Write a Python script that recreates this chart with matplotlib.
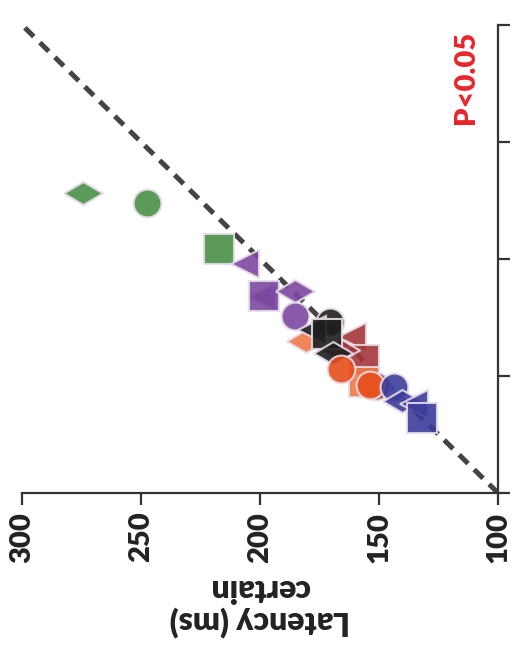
import numpy as np
import matplotlib
matplotlib.use("Agg")
import matplotlib.pyplot as plt

plt.rcParams['font.family'] = ['Lato', 'DejaVu Sans']
plt.rcParams['font.weight'] = 'heavy'

# latency values (ms), one list per condition group
green_x = [274.4, 247.5, 217.2]
green_y = [228.2, 223.9, 204.3]
green_m = ['diamond', 'o', 's']

purple_x = [206.3, 199.2, 198.3, 185.3, 185.3]
purple_y = [197.9, 183.8, 184.2, 186.3, 175.6]
purple_m = ['<', '<', 's', 'diamond', 'o']

lorange_x = [180.7, 156.3]
lorange_y = [165.0, 147.4]
lorange_m = ['diamond', 's']

dred_x = [161.3, 156.3, 151.3, 166.4]
dred_y = [166.7, 156.8, 145.7, 161.1]
dred_m = ['<', 's', 'o', 'diamond']

black_x = [170.6, 178.1, 171.8, 169.3]
black_y = [173.1, 169.7, 168.0, 159.8]
black_m = ['o', '<', 's', 'diamond']

ored_x = [165.9, 153.8]
ored_y = [153.0, 146.2]
ored_m = ['o', 'o']

navy_x = [143.7, 140.3, 135.3, 131.9]
navy_y = [145.3, 139.3, 138.0, 132.1]
navy_m = ['o', 'diamond', '<', 's']

groups = [
    (green_x, green_y, green_m, '#4a8f47'),
    (purple_x, purple_y, purple_m, '#7b48a0'),
    (dred_x, dred_y, dred_m, '#a3363a'),
    (lorange_x, lorange_y, lorange_m, '#f07848'),
    (black_x, black_y, black_m, '#1e1e1e'),
    (ored_x, ored_y, ored_m, '#e84e1c'),
    (navy_x, navy_y, navy_m, '#3c3c9c'),
]

ticks = [300, 250, 200, 150, 100]

# flat diamond marker
flat_diamond = [(-1, 0), (0, 0.59), (1, 0), (0, -0.59), (-1, 0)]
sizes = {'o': 20, 's': 21, '<': 19.5, 'diamond': 28}

fig = plt.figure(figsize=(5.12, 6.54), dpi=100)
ax = fig.add_axes([0.043, 0.2462, 0.9297, 0.7156])

ax.plot([100, 300], [100, 300], ls=(0, (2.5, 1.7)), lw=3.6, color='#444444', zorder=1)

for xs, ys, ms, col in groups:
    for x, y, m in zip(xs, ys, ms):
        mk = flat_diamond if m == 'diamond' else m
        ax.plot(x, y, marker=mk, ms=sizes[m], color=col, alpha=0.9,
                mec='#e6dde6', mew=1.5, ls='none', zorder=2)

ax.set_xlim(300, 100)
ax.set_ylim(100, 300)
ax.set_xticks(ticks)
ax.set_xticklabels([str(t) for t in ticks], rotation=90, fontsize=21, fontweight='heavy', color='#222222')
ax.set_yticks(ticks)
ax.yaxis.tick_right()
ax.set_yticklabels([])

for s in ['top', 'left']:
    ax.spines[s].set_visible(False)
for s in ['bottom', 'right']:
    ax.spines[s].set_linewidth(1.6)
    ax.spines[s].set_color('#333333')
ax.tick_params(axis='both', direction='out', length=8.5, width=1.6, color='#333333', pad=5)

ax.set_xlabel('Latency (ms)\ncertain', rotation=180, fontsize=23, fontweight='heavy',
              color='#222222', labelpad=8, linespacing=1.15)

ax.text(0.933, 0.887, 'P<0.05', transform=ax.transAxes, rotation=90, ha='center', va='center',
        fontsize=21, fontweight='heavy', color='#e8252b')

plt.savefig('out.png', dpi=100)
